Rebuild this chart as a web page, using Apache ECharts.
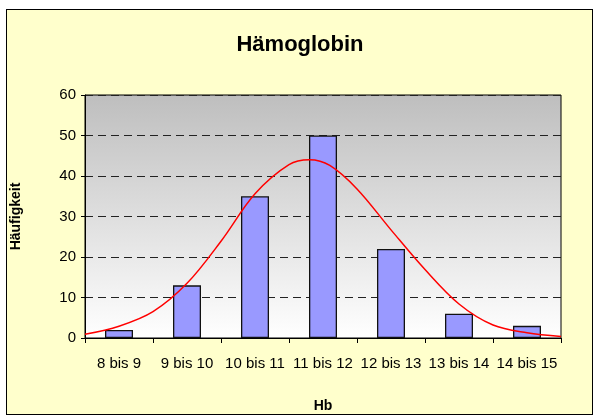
<!DOCTYPE html>
<html>
<head>
<meta charset="utf-8">
<script src="https://cdn.jsdelivr.net/npm/echarts@6.0.0/dist/echarts.min.js"></script>
<style>
  html, body { margin: 0; padding: 0; background: #ffffff; }
  #frame {
    position: absolute;
    left: 6px;
    top: 9px;
    width: 585px;
    height: 404px;
    border: 1px solid #000000;
    background: #FFFFCC;
  }
  #hb_chart {
    position: absolute;
    left: 0;
    top: 0;
    width: 600px;
    height: 418px;
  }
</style>
</head>
<body>
<div id="frame"></div>
<div id="hb_chart"></div>
<script>
// Klassen (Hb) und Häufigkeiten
var categories = ['8 bis 9', '9 bis 10', '10 bis 11', '11 bis 12', '12 bis 13', '13 bis 14', '14 bis 15']
var counts = [2, 13, 35, 50, 22, 6, 3]

// Normalverteilungskurve
var curveHb = [8, 8.5, 9, 9.5, 10, 10.5, 11, 11.3, 11.6, 12, 12.5, 13, 13.5, 14, 14.5, 15]
var curveValues = [0.9, 2.9, 6.5, 13.5, 23.9, 35.6, 42.8, 44.0, 42.6, 36.8, 26.7, 16.9, 8.4, 3.2, 1.3, 0.4]

var yTicks = { min: 0, max: 60, interval: 10 }

var font = "'Liberation Sans', Arial, sans-serif"

var curveData = curveHb.map(function (x, i) {
  return [x, curveValues[i]]
})

var myChart = echarts.init(document.getElementById('hb_chart'))
var option = {
  animation: false,
  backgroundColor: 'transparent',
  textStyle: { fontFamily: font },
  title: {
    text: 'Hämoglobin',
    left: 'center',
    top: 29,
    textStyle: {
      fontFamily: font,
      fontSize: 22,
      fontWeight: 'bold',
      color: '#000'
    }
  },
  grid: {
    left: 85,
    right: 39,
    top: 95,
    bottom: 77,
    show: true,
    borderColor: '#000',
    borderWidth: 1,
    // grauer Verlauf im Hintergrund
    backgroundColor: {
      type: 'linear',
      x: 0, y: 0, x2: 0, y2: 1,
      colorStops: [
        { offset: 0, color: '#BEBEBE' },
        { offset: 1, color: '#FFFFFF' }
      ]
    }
  },
  xAxis: [
    {
      type: 'category',
      data: categories,
      name: 'Hb',
      nameLocation: 'middle',
      nameGap: 61,
      nameTextStyle: { fontFamily: font, fontSize: 14, fontWeight: 'bold', color: '#000' },
      axisLine: { lineStyle: { color: '#000', width: 1 } },
      axisTick: { show: true, length: 5, lineStyle: { color: '#000' } },
      axisLabel: { color: '#000', fontSize: 15, margin: 18, interval: 0, fontFamily: font },
      splitLine: { show: false }
    },
    {
      // unsichtbare Werteachse für die Kurve
      type: 'value',
      min: 8,
      max: 15,
      show: false
    }
  ],
  yAxis: {
    type: 'value',
    min: yTicks.min,
    max: yTicks.max,
    interval: yTicks.interval,
    name: 'Häufigkeit',
    nameLocation: 'middle',
    nameRotate: 90,
    nameGap: 62,
    nameTextStyle: { fontFamily: font, fontSize: 14, fontWeight: 'bold', color: '#000' },
    axisLine: { show: true, lineStyle: { color: '#000', width: 1 } },
    axisTick: { show: true, length: 4, lineStyle: { color: '#000' } },
    axisLabel: { color: '#000', fontSize: 15, margin: 9, fontFamily: font },
    splitLine: {
      show: true,
      lineStyle: { color: '#222', type: [8, 5], width: 1 }
    }
  },
  series: [
    {
      type: 'bar',
      data: counts,
      barWidth: 28,
      itemStyle: {
        color: '#9999FF',
        borderColor: '#111',
        borderWidth: 1.3
      }
    },
    {
      type: 'line',
      xAxisIndex: 1,
      data: curveData,
      smooth: 0.35,
      showSymbol: false,
      symbol: 'none',
      lineStyle: { color: '#FF0000', width: 1.5 },
      z: 5
    }
  ]
}
myChart.setOption(option)
</script>
</body>
</html>
